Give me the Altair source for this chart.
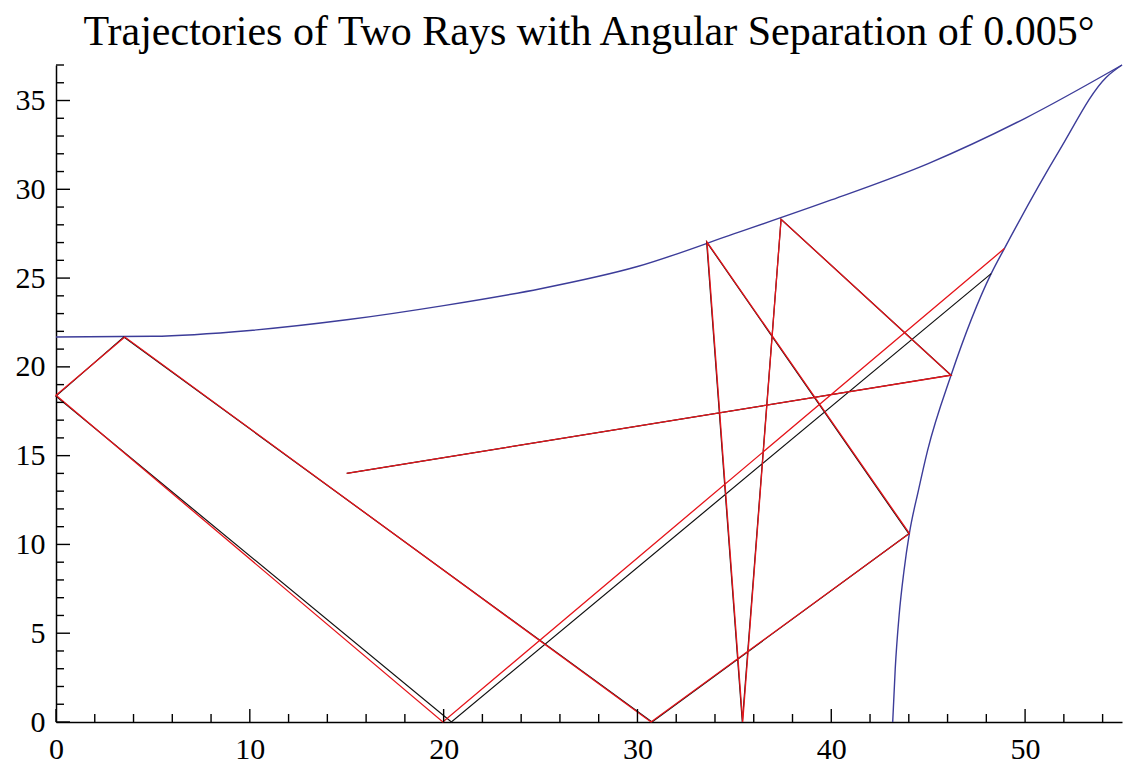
import altair as alt
import pandas as pd

# ---- data ----
top_x = [0, 5, 10, 15, 20, 25, 30, 35, 40, 45, 50, 55]
top_y = [21.68, 21.72, 22.05, 22.65, 23.45, 24.4, 25.65, 27.5, 29.4, 31.45, 34.0, 37.0]

right_x = [43.17, 43.3, 43.5, 43.75, 44.03, 44.5, 44.97, 46.18, 48.25, 48.93, 51.77, 54.18, 55.0]
right_y = [0.0, 3.0, 6.0, 8.5, 10.62, 13.06, 15.3, 19.53, 25.25, 26.66, 32.19, 36.3, 37.0]

red_x = [15.0, 46.18, 37.41, 35.43, 33.59, 44.03, 30.7, 3.55, 0.0, 19.96, 48.93]
red_y = [14.0, 19.53, 28.31, 0.0, 27.03, 10.62, 0.0, 21.68, 18.4, 0.0, 26.66]

black_x = [15.0, 46.18, 37.41, 35.41, 33.57, 44.0, 30.75, 3.5, 0.0, 20.4, 48.25]
black_y = [14.0, 19.53, 28.31, 0.0, 27.03, 10.6, 0.0, 21.68, 18.35, 0.0, 25.25]

x_major = [0, 10, 20, 30, 40, 50]
x_minor = [v for v in range(2, 55, 2) if v % 10 != 0]
y_major = [0, 5, 10, 15, 20, 25, 30, 35]
y_minor = [v for v in range(1, 38) if v % 5 != 0]

TITLE = "Trajectories of Two Rays with Angular Separation of 0.005°"

W, H = 1066, 657


def path_df(xs, ys, name):
    return pd.DataFrame({"x": xs, "y": ys, "i": list(range(len(xs))), "s": name})


curves_df = pd.concat([path_df(top_x, top_y, "top"), path_df(right_x, right_y, "right")])
red_df = path_df(red_x, red_y, "red")
black_df = path_df(black_x, black_y, "black")

x_scale = alt.Scale(domain=[0, 55], nice=False, zero=False)
y_scale = alt.Scale(domain=[0, 37], nice=False, zero=False)

FONT = "Liberation Serif"
LSIZE = 30
x_axis = alt.Axis(values=x_major, tickSize=0, grid=False, title=None, labelFont=FONT,
                  labelFontSize=LSIZE, labelColor="black", domainColor="black", domainWidth=1.5,
                  labelPadding=12, labelFlush=False, format="d")
y_axis = alt.Axis(values=y_major, tickSize=0, grid=False, title=None, labelFont=FONT,
                  labelFontSize=LSIZE, labelColor="black", domainColor="black", domainWidth=1.5,
                  labelPadding=11, labelFlush=False, format="d")

X = alt.X("x:Q", scale=x_scale, axis=x_axis)
Y = alt.Y("y:Q", scale=y_scale, axis=y_axis)

curves = alt.Chart(curves_df).mark_line(color="#3c3c99", strokeWidth=1.4,
                                        interpolate="monotone").encode(
    x=X, y=Y, detail="s:N", order="i:Q")
black = alt.Chart(black_df).mark_line(color="#111111", strokeWidth=1.2).encode(
    x=X, y=Y, order="i:Q")
red = alt.Chart(red_df).mark_line(color="#e5141a", strokeWidth=1.3).encode(
    x=X, y=Y, order="i:Q")

xmaj = alt.Chart(pd.DataFrame({"v": x_major})).mark_rule(color="black", strokeWidth=1.4).encode(
    x=alt.X("v:Q", scale=x_scale, axis=x_axis), y=alt.value(H), y2=alt.value(H - 13))
xmin = alt.Chart(pd.DataFrame({"v": x_minor})).mark_rule(color="black", strokeWidth=1.4).encode(
    x=alt.X("v:Q", scale=x_scale, axis=x_axis), y=alt.value(H), y2=alt.value(H - 8))
ymaj = alt.Chart(pd.DataFrame({"v": y_major})).mark_rule(color="black", strokeWidth=1.4).encode(
    y=alt.Y("v:Q", scale=y_scale, axis=y_axis), x=alt.value(0), x2=alt.value(14))
ymin = alt.Chart(pd.DataFrame({"v": y_minor})).mark_rule(color="black", strokeWidth=1.4).encode(
    y=alt.Y("v:Q", scale=y_scale, axis=y_axis), x=alt.value(0), x2=alt.value(8))

chart = alt.layer(curves, black, red, xmaj, xmin, ymaj, ymin).properties(
    width=W, height=H,
    title=alt.TitleParams(TITLE, font=FONT, fontSize=42, fontWeight="normal", color="black",
                          anchor="middle", offset=8),
    autosize=alt.AutoSizeParams(type="none"),
    padding={"left": 48, "top": 57, "right": 10, "bottom": 52},
    background="white",
).configure_view(stroke=None).configure_axis(
    labelFont=FONT, labelFontSize=LSIZE, labelColor="black"
)

chart.save("out.html", embed_options={"renderer": "svg", "actions": False})
